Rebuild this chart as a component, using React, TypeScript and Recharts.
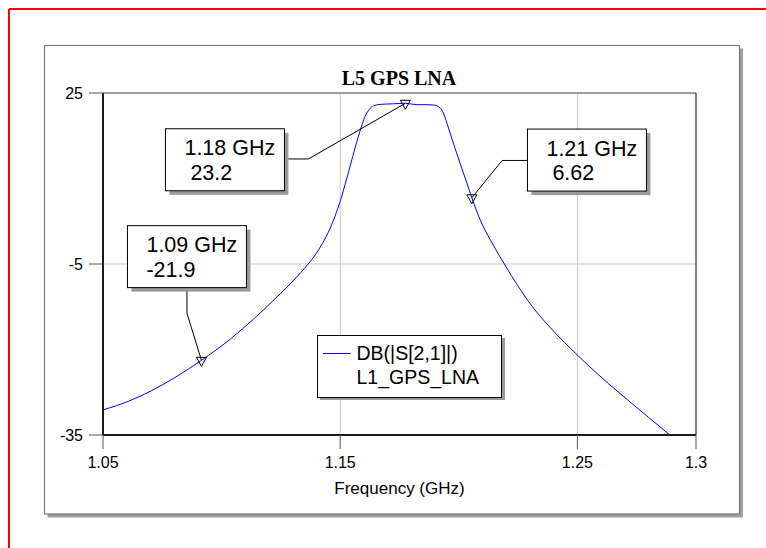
import React from "react";
import {
  LineChart,
  Line,
  XAxis,
  YAxis,
  CartesianGrid,
  ReferenceLine,
  ReferenceDot,
  Legend,
} from "recharts";

// S21 trace (GHz, dB)
const freqGHz = [
  1.05, 1.0612, 1.0706, 1.08, 1.0861, 1.0915, 1.1036, 1.1139, 1.125, 1.1305,
  1.1365, 1.1395, 1.1425, 1.1458, 1.148, 1.15, 1.1521, 1.1542, 1.1563, 1.1584,
  1.1605, 1.1626, 1.1647, 1.1669, 1.172, 1.1775, 1.1823, 1.1865, 1.1893, 1.1921,
  1.1935, 1.195, 1.1977, 1.2005, 1.2034, 1.2055, 1.209, 1.214, 1.2192, 1.225,
  1.2305, 1.24, 1.2493, 1.258, 1.2682, 1.28, 1.289,
];
const s21dB = [
  -30.6, -29.0, -27.2, -25.0, -23.4, -21.9, -18.2, -14.5, -10.1, -7.8,
  -5.0, -3.4, -1.4, 1.3, 3.6, 6.0, 9.0, 12.2, 15.4, 18.4,
  20.9, 22.3, 22.85, 23.0, 23.1, 23.2, 22.95, 22.95, 22.9, 22.4,
  21.5, 19.7, 16.2, 12.7, 9.2, 6.62, 2.75, -1.3, -5.0, -8.9,
  -12.2, -16.8, -20.7, -24.1, -27.8, -31.9, -35.0,
];

const xTicks = [1.05, 1.15, 1.25, 1.3];
const yTicks = [-35, -5, 25];

// markers
const markerFreq = [1.1775, 1.2055, 1.0915];
const markerVal = [23.2, 6.62, -21.9];
const markerFreqText = ["1.18 GHz", "1.21 GHz", "1.09 GHz"];

const seriesName = "DB(|S[2,1]|)";
const docName = "L1_GPS_LNA";

// where each marker's tag box sits relative to the marker (px)
const tagLayout = [
  { bx: -240, by: 25.5, path: [[-122, 55.7], [-97, 55.7]] },
  { bx: 55.6, by: -68.7, path: [[55.6, -37.3], [30.3, -37.3]] },
  { bx: -74, by: -134.7, path: [[-14.5, -71.4], [-14.5, -47.1]] },
];

const chartData = freqGHz.map((f, i) => ({ f, db: s21dB[i] }));

const SANS = "'Liberation Sans', Arial, sans-serif";

const MarkerTag = (props: any) => {
  const { cx, cy, idx } = props;
  if (cx == null || cy == null) return null;
  const lay = tagLayout[idx];
  const v = markerVal[idx];
  const pts =
    lay.path.map(([dx, dy]) => `${cx + dx},${cy + dy}`).join(" ") + ` ${cx},${cy}`;
  const bx = cx + lay.bx;
  const by = cy + lay.by;
  return (
    <g>
      <polyline points={pts} fill="none" stroke="#000" strokeWidth={1} />
      <path
        d={`M${cx - 5},${cy - 3} L${cx + 5},${cy - 3} L${cx},${cy + 6} Z`}
        fill="none"
        stroke="#000"
        strokeWidth={1}
      />
      <rect x={bx + 4} y={by + 4} width={119} height={62} fill="#9a9a9a" />
      <rect x={bx} y={by} width={119} height={62} fill="#fff" stroke="#000" strokeWidth={1} />
      <text
        x={bx + 19}
        y={by + 26.5}
        fontFamily={SANS}
        fontSize={21.5}
        fill="#000"
        style={{ whiteSpace: "pre" }}
      >
        {markerFreqText[idx]}
      </text>
      <text
        x={bx + 19}
        y={by + 51}
        fontFamily={SANS}
        fontSize={21.5}
        fill="#000"
        style={{ whiteSpace: "pre" }}
      >
        {v >= 0 ? ` ${v}` : `${v}`}
      </text>
    </g>
  );
};

const renderLegend = (props: any) => {
  const item = props.payload && props.payload[0];
  return (
    <svg width={190} height={68} style={{ display: "block" }}>
      <rect x={3} y={3} width={185} height={62} fill="#999" />
      <rect x={0.5} y={0.5} width={184} height={62} fill="#fff" stroke="#000" />
      <line x1={6} y1={18.5} x2={33.5} y2={18.5} stroke={item ? item.color : "#0000ff"} strokeWidth={1} />
      <text x={39.5} y={24.5} fontFamily={SANS} fontSize={19.5} fill="#000">
        {item ? item.value : seriesName}
      </text>
      <text x={39.5} y={48.5} fontFamily={SANS} fontSize={19.5} fill="#000">
        {docName}
      </text>
    </svg>
  );
};

const App: React.FC = () => {
  return (
    <div style={{ position: "absolute", left: 0, top: 0, width: 766, height: 548, background: "#fff" }}>
      {/* frame, panel and title */}
      <svg width={766} height={548} style={{ position: "absolute", left: 0, top: 0 }}>
        <line x1={9} y1={9} x2={766} y2={9} stroke="#ff0000" strokeWidth={2} />
        <line x1={9} y1={9} x2={9} y2={548} stroke="#ff0000" strokeWidth={2} />
        <rect x={47.5} y={48.5} width={695.5} height={469} fill="#a0a0a0" />
        <rect x={44.5} y={45.5} width={695} height={468.5} fill="#fff" stroke="#7a7a7a" strokeWidth={1.2} />
        <text
          x={399}
          y={85}
          textAnchor="middle"
          fontFamily="'Liberation Serif', 'Times New Roman', serif"
          fontWeight="bold"
          fontSize={20}
          fill="#000"
        >
          L5 GPS LNA
        </text>
      </svg>

      <div style={{ position: "absolute", left: 0, top: 0 }}>
        <LineChart
          width={766}
          height={548}
          data={chartData}
          margin={{ top: 93, right: 70, bottom: 53, left: 43 }}
        >
          <CartesianGrid stroke="#c8c8c8" strokeWidth={1} />
          <XAxis
            dataKey="f"
            type="number"
            domain={[1.05, 1.3]}
            ticks={xTicks}
            allowDataOverflow
            height={60}
            tickSize={14}
            tickMargin={8}
            tickLine={{ stroke: "#555" }}
            axisLine={{ stroke: "#1a1a1a", strokeWidth: 2 }}
            tick={{ fill: "#000", fontSize: 16, fontFamily: SANS }}
            label={{
              value: "Frequency (GHz)",
              position: "insideBottom",
              offset: 1,
              style: { fill: "#000", fontSize: 17, fontFamily: SANS },
            }}
          />
          <YAxis
            type="number"
            domain={[-35, 25]}
            ticks={yTicks}
            allowDataOverflow
            width={60}
            tickSize={14}
            tickMargin={6}
            tickLine={{ stroke: "#555" }}
            axisLine={{ stroke: "#1a1a1a", strokeWidth: 2 }}
            tick={{ fill: "#000", fontSize: 16, fontFamily: SANS }}
          />
          <ReferenceLine y={25} stroke="#555" strokeWidth={1} />
          <ReferenceLine x={1.3} stroke="#222" strokeWidth={1} />
          <Line
            type="monotone"
            dataKey="db"
            name={seriesName}
            stroke="#0000ff"
            strokeWidth={1}
            dot={false}
            activeDot={false}
            isAnimationActive={false}
          />
          {markerFreq.map((f, i) => (
            <ReferenceDot
              key={i}
              x={f}
              y={markerVal[i]}
              r={0}
              ifOverflow="visible"
              shape={(p: any) => <MarkerTag {...p} idx={i} />}
            />
          ))}
          <Legend
            layout="vertical"
            align="center"
            verticalAlign="middle"
            content={renderLegend}
            wrapperStyle={{ position: "absolute", left: 317, top: 335, width: 190, height: 68 }}
          />
        </LineChart>
      </div>
    </div>
  );
};

export default App;
